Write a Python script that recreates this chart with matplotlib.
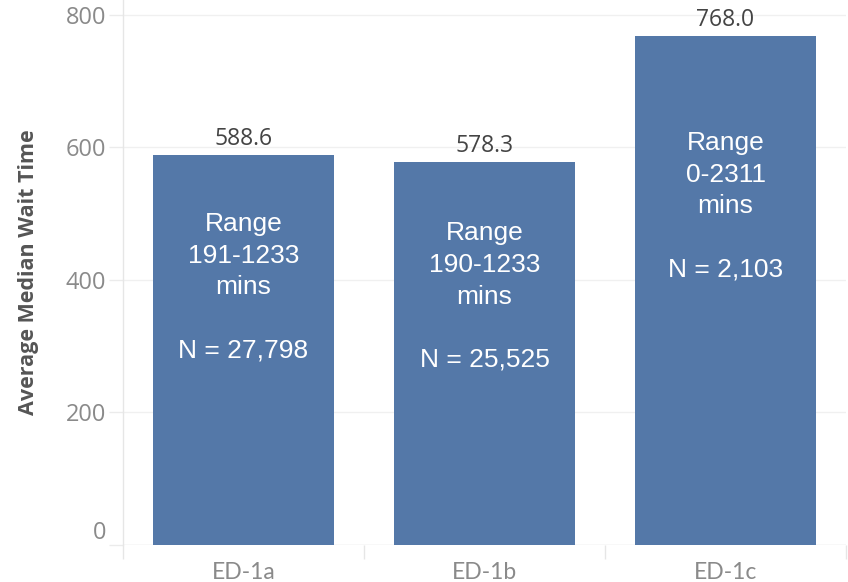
import matplotlib
matplotlib.use("Agg")
import matplotlib.pyplot as plt

categories = ["ED-1a", "ED-1b", "ED-1c"]
values = [588.6, 578.3, 768.0]
ranges = ["191-1233", "190-1233", "0-2311"]
counts = ["27,798", "25,525", "2,103"]
inner_centers = [389, 375, 511]
yticks = [0, 200, 400, 600, 800]

bar_color = "#5478A8"
fig = plt.figure(figsize=(8.48, 5.82), dpi=100)
ax = fig.add_axes([123/848, 37/582, 723/848, 545/582])

x = list(range(len(categories)))
ax.bar(x, values, width=0.755, color=bar_color, zorder=3)

ax.set_xlim(-0.5, 2.5)
ax.set_ylim(0, 822.6)

for s in ["top", "right", "bottom"]:
    ax.spines[s].set_visible(False)
ax.spines["left"].set_color("#e6e6e6")
ax.spines["left"].set_linewidth(1)

ax.set_yticks(yticks)
ax.set_yticklabels([str(t) for t in yticks], fontsize=17, color="#8a8a8a", family="Open Sans")
ax.tick_params(axis="y", length=10, color="#ebebeb", width=1, pad=2)
ax.yaxis.grid(True, color="#f0f0f0", linewidth=1, zorder=0)
ax.axhline(0, color="#e6e6e6", linewidth=1, zorder=1)
for lbl in ax.get_yticklabels():
    if lbl.get_text() == "0":
        lbl.set_verticalalignment("bottom")

ax.set_xticks(x)
ax.set_xticklabels(categories, fontsize=16.5, color="#8a8a8a", family="Lato")
ax.tick_params(axis="x", which="major", length=0, pad=12)
ax.set_xticks([-0.5, 0.5, 1.5, 2.5], minor=True)
ax.tick_params(axis="x", which="minor", length=10, color="#e6e6e6", width=1)

ax.set_ylabel("Average Median Wait Time", fontsize=15.5, fontweight="bold",
              color="#555555", family="Open Sans", labelpad=19)

for i, v in enumerate(values):
    ax.text(i, v + 6, f"{v:.1f}", ha="center", va="bottom", fontsize=16.5,
            color="#444444", family="Open Sans", zorder=4)
    ax.text(i, inner_centers[i], f"Range\n{ranges[i]}\nmins\n\nN = {counts[i]}",
            ha="center", va="center", fontsize=19, color="white",
            family="Liberation Sans", linespacing=1.4, zorder=4)

fig.savefig("out.png", dpi=100)
